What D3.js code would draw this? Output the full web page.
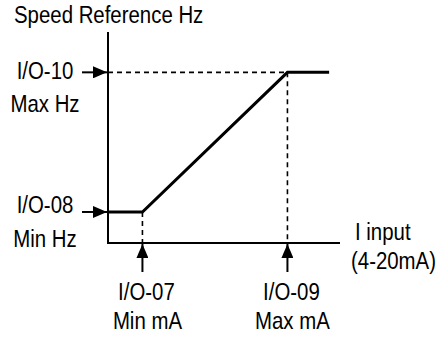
<!DOCTYPE html>
<html>
<head>
<meta charset="utf-8">
<script src="https://cdn.jsdelivr.net/npm/d3@7"></script>
<style>
  html, body { margin: 0; padding: 0; background: #fff; }
  svg { display: block; }
  text { font-family: "Liberation Sans", Arial, sans-serif; font-size: 24px; fill: #000; }
</style>
</head>
<body>
<svg id="chart" width="442" height="338"></svg>
<script>
// Analog current input (mA) vs. speed reference (Hz)
const inputRange = [0.2, 25.8];         // mA shown along the input axis
const hzRange = [0, 68];                // Hz shown along the speed axis
const minMA = 4, maxMA = 20;            // I/O-07, I/O-09
const minHz = 10, maxHz = 55;           // I/O-08, I/O-10
const curveMA = [0.2, minMA, maxMA, 24.6];
const curveHz = [minHz, minHz, maxHz, maxHz];

const yTitle = "Speed Reference Hz";
const xTitle = ["I input", "(4-20mA)"];
const hzLabels = [["I/O-10", "Max Hz"], ["I/O-08", "Min Hz"]];
const maLabels = [["I/O-07", "Min mA"], ["I/O-09", "Max mA"]];

const svg = d3.select("#chart");
const x = d3.scaleLinear().domain(inputRange).range([108, 340]);
const y = d3.scaleLinear().domain(hzRange).range([243, 32]);

// narrow sans lettering
function label(px, py, str, anchor) {
  svg.append("g")
    .attr("transform", `translate(${px},${py}) scale(0.85,1)`)
    .append("text")
    .attr("text-anchor", anchor || "start")
    .text(str);
}

// arrowheads
const defs = svg.append("defs");
defs.append("marker")
  .attr("id", "head")
  .attr("viewBox", "0 0 14 12")
  .attr("refX", 14).attr("refY", 6)
  .attr("markerWidth", 14).attr("markerHeight", 12)
  .attr("markerUnits", "userSpaceOnUse")
  .attr("orient", "auto")
  .append("path").attr("d", "M0,0 L14,6 L0,12 Z").attr("fill", "#000");

// dashed guides
const guides = svg.append("g").attr("stroke", "#000").attr("stroke-width", 1.6)
  .attr("stroke-dasharray", "5,4").attr("fill", "none");
guides.append("line")
  .attr("x1", x(inputRange[0])).attr("x2", x(maxMA))
  .attr("y1", y(maxHz)).attr("y2", y(maxHz));
guides.append("line")
  .attr("x1", x(maxMA)).attr("x2", x(maxMA))
  .attr("y1", y(maxHz)).attr("y2", y(0));
guides.append("line")
  .attr("x1", x(minMA)).attr("x2", x(minMA))
  .attr("y1", y(minHz)).attr("y2", y(0));

// axes
const axes = svg.append("g").attr("stroke", "#000").attr("stroke-width", 2);
axes.append("line")
  .attr("x1", x(inputRange[0])).attr("x2", x(inputRange[0]))
  .attr("y1", y(hzRange[1])).attr("y2", y(0));
axes.append("line")
  .attr("x1", x(inputRange[0]) - 1).attr("x2", x(inputRange[1]))
  .attr("y1", y(0)).attr("y2", y(0));

// characteristic curve
const curve = curveMA.map((m, i) => [m, curveHz[i]]);
svg.append("path")
  .datum(curve)
  .attr("fill", "none").attr("stroke", "#000").attr("stroke-width", 3)
  .attr("stroke-linejoin", "miter")
  .attr("d", d3.line().x(d => x(d[0])).y(d => y(d[1])));

// parameter arrows on both axes
const arrows = svg.append("g").attr("stroke", "#000").attr("stroke-width", 2)
  .attr("marker-end", "url(#head)");
[maxHz, minHz].forEach(hz => {
  arrows.append("line")
    .attr("x1", 82).attr("x2", x(inputRange[0]) - 1)
    .attr("y1", y(hz)).attr("y2", y(hz));
});
[minMA, maxMA].forEach(ma => {
  arrows.append("line")
    .attr("x1", x(ma)).attr("x2", x(ma))
    .attr("y1", y(0) + 29).attr("y2", y(0) + 1);
});

// labels
label(14, 23, yTitle);

const hzOffsets = [[6.5, 39.5], [1.5, 35.5]];
[maxHz, minHz].forEach((hz, i) => {
  label(45, y(hz) + hzOffsets[i][0], hzLabels[i][0], "middle");
  label(45, y(hz) + hzOffsets[i][1], hzLabels[i][1], "middle");
});

[minMA, maxMA].forEach((ma, i) => {
  label(x(ma) + 4, y(0) + 57, maLabels[i][0], "middle");
  label(x(ma) + 5, y(0) + 86, maLabels[i][1], "middle");
});

label(355, 240, xTitle[0]);
label(351, 269, xTitle[1]);
</script>
</body>
</html>
